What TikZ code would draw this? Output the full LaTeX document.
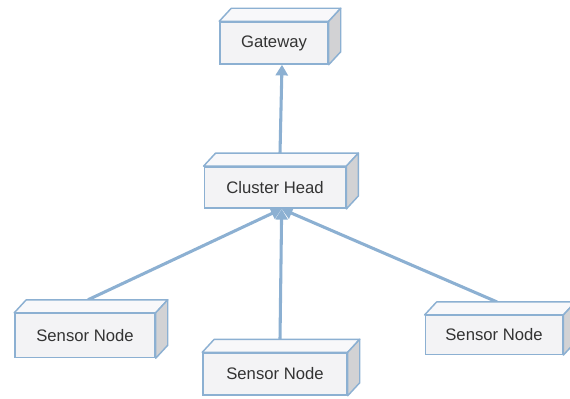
\documentclass[tikz,border=0pt]{standalone}
\usepackage{fontspec}
\setmainfont{Liberation Sans}
\usetikzlibrary{arrows.meta}
\definecolor{edgeblue}{RGB}{140,176,210}
\definecolor{facegray}{RGB}{243,243,245}
\definecolor{topgray}{RGB}{248,248,250}
\definecolor{sidegray}{RGB}{210,210,212}

\begin{document}
\begin{tikzpicture}[x=0.75pt,y=-0.75pt,font=\fontsize{12.5}{15}\selectfont,
 blk/.style={draw=edgeblue,fill=facegray,line width=1.1pt,text=black!80,minimum width=105pt,minimum height=31.5pt,inner sep=0pt},
 lnk/.style={draw=edgeblue,line width=2.3pt,-{Triangle[width=9pt,length=8pt]}}]
\useasboundingbox (0,0) rectangle (570,399);
\node[blk,minimum width=81pt](gw) at (274,43){Gateway};
\node[blk,minimum width=106pt,minimum height=31pt](ch) at (275,187.5){Cluster Head};
\node[blk,minimum height=33pt](s1) at (85,335.5){Sensor Node};
\node[blk,minimum width=108pt](s2) at (275,374){Sensor Node};
\node[blk,minimum width=103pt,minimum height=29pt](s3) at (494,335){Sensor Node};
% links go under the box faces
\draw[lnk]([shift={(5,-13)}]ch.north)--([xshift=6]gw.south);
\draw[lnk]([shift={(3,-13)}]s1.north)--([xshift=5]ch.south);
\draw[lnk]([shift={(5,-13)}]s2.north)--([xshift=5]ch.south);
\draw[lnk]([shift={(3,-13)}]s3.north)--([xshift=5]ch.south);
% top and side faces of each box
\foreach \n in {gw,ch,s1,s2,s3}{
 \draw[draw=edgeblue,line width=1.1pt,fill=topgray,line join=round](\n.north west)--++(12,-13)--([shift={(12,-13)}]\n.north east)--(\n.north east)--cycle;
 \draw[draw=edgeblue,line width=1.1pt,fill=sidegray,line join=round](\n.north east)--++(12,-13)--([shift={(12,-13)}]\n.south east)--(\n.south east)--cycle;
}
\end{tikzpicture}
\end{document}
